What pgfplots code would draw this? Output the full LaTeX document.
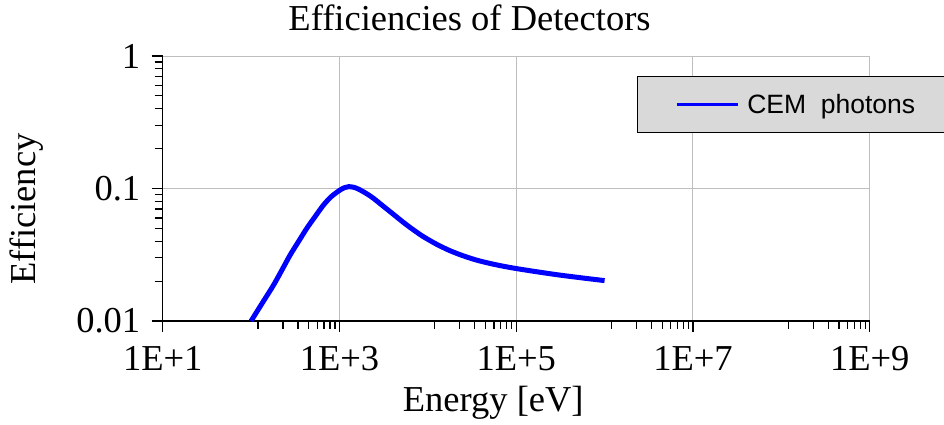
\documentclass[border=0pt]{standalone}
\usepackage{pgfplots}
\pgfplotsset{compat=1.18}
\usepackage{fontspec}
\setmainfont{Liberation Serif}
\newfontfamily\legfont{Liberation Sans}
\definecolor{leggray}{RGB}{217,217,217}
\definecolor{gridgray}{RGB}{190,190,190}
\begin{document}
\begin{tikzpicture}[font=\fontsize{36.5}{40}\selectfont]
\begin{axis}[
  scale only axis,
  width=707pt, height=265pt,
  xmode=log, ymode=log,
  xmin=10, xmax=1e9, ymin=0.01, ymax=1,
  axis x line*=bottom, axis y line*=left,
  axis line style={-, black, line width=1.3pt},
  xtick={10,1000,1e5,1e7,1e9},
  xticklabels={1E+1,1E+3,1E+5,1E+7,1E+9},
  minor xtick={120,230,340,450,560,670,780,890,
    12000,23000,34000,45000,56000,67000,78000,89000,
    1.2e6,2.3e6,3.4e6,4.5e6,5.6e6,6.7e6,7.8e6,8.9e6,
    1.2e8,2.3e8,3.4e8,4.5e8,5.6e8,6.7e8,7.8e8,8.9e8},
  ytick={0.01,0.1,1},
  yticklabels={0.01,0.1,1},
  minor ytick={0.02,0.03,0.04,0.05,0.06,0.07,0.08,0.09,0.2,0.3,0.4,0.5,0.6,0.7,0.8,0.9},
  tick align=outside,
  major tick length=11pt, minor tick length=8pt,
  tick style={black, line width=1.2pt},
  xticklabel style={yshift=-11pt},
  yticklabel style={xshift=-8pt},
  grid=major,
  major grid style={gridgray, line width=1pt},
  title={Efficiencies of Detectors},
  title style={at={(axis description cs:0.434,1.0728)}, anchor=base, inner sep=0pt},
  xlabel={Energy [eV]},
  xlabel style={at={(axis description cs:0.4676,-0.3396)}, anchor=base, inner sep=0pt},
  ylabel={Efficiency},
  ylabel style={at={(axis description cs:-0.192,0.4226)}, anchor=center, inner sep=0pt},
  legend style={at={(axis description cs:0.6704,0.9245)}, anchor=north west,
    fill=leggray, draw=black, line width=1.2pt,
    font=\legfont\fontsize{26.5}{30}\selectfont,
    inner xsep=38pt, inner ysep=17.5pt, column sep=8pt,
    nodes={inner sep=0pt}},
  legend image code/.code={\draw[#1, line width=3pt] (0pt,0pt) -- (61pt,0pt);},
]
\addplot[blue, line width=5pt, smooth] coordinates {
(100,0.01000) (133.4,0.01361) (179.1,0.01862) (223.9,0.02432) (276.7,0.03148)
(346.7,0.04009) (427.6,0.05012) (524.8,0.06081) (659.2,0.07499) (812.8,0.08710)
(1018.6,0.09750) (1148,0.10162) (1273.5,0.10328) (1479,0.10186) (1714,0.09750)
(2042,0.09120) (2427,0.08433) (3020,0.07499) (3750,0.06683) (4677,0.05929)
(5794,0.05297) (7244,0.04753) (8933,0.04325) (12589,0.03793) (17783,0.03396)
(25119,0.03105) (35481,0.02884) (50119,0.02723) (70795,0.02594) (100000,0.02489)
(177828,0.02344) (316228,0.02218) (562341,0.02113) (1000000,0.02018)
};
\addlegendentry{CEM\ \ photons\hspace*{100pt}}
\end{axis}
\pgfresetboundingbox
\path[use as bounding box] (-162.7pt,-103pt) rectangle (781.3pt,321pt);
\end{tikzpicture}
\end{document}
